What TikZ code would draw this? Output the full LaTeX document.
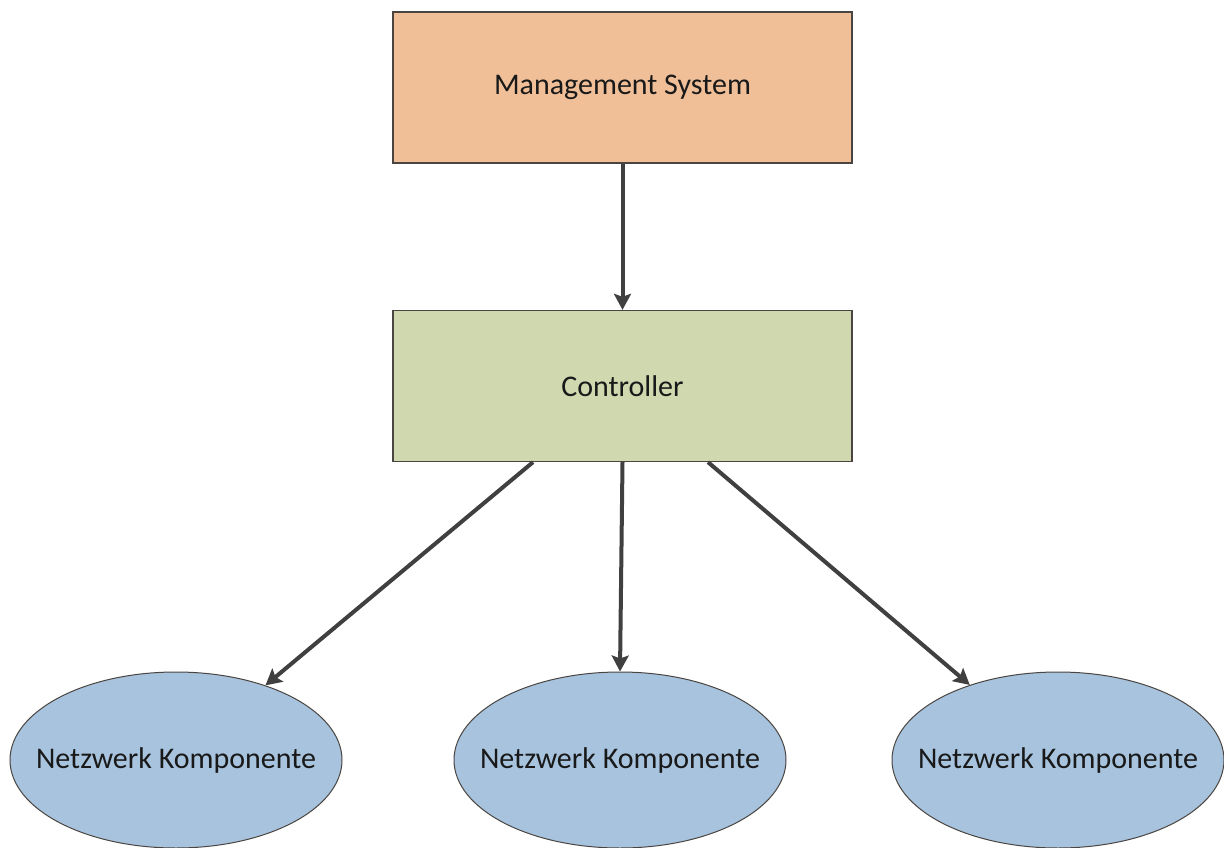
\documentclass[tikz,border=0pt]{standalone}
\usepackage{fontspec}
\setmainfont{Carlito}
\usetikzlibrary{shapes.geometric,arrows.meta,calc}
\definecolor{orangefill}{HTML}{F0BF98}
\definecolor{greenfill}{HTML}{D0D8B0}
\definecolor{bluefill}{HTML}{A7C3DE}
\definecolor{edgecol}{HTML}{4A4540}
\definecolor{arrowcol}{HTML}{404040}
\tikzset{
  box/.style={draw=edgecol, line width=1.3pt, minimum width=459pt, minimum height=151pt, inner sep=0pt, font=\fontsize{30}{34}\selectfont, text=black!90},
  comp/.style={ellipse, draw=edgecol, line width=1pt, fill=bluefill, minimum width=332pt, minimum height=176pt, inner xsep=-40pt, inner ysep=-20pt, font=\fontsize{30}{34}\selectfont, text=black!90},
  conn/.style={draw=arrowcol, line width=4pt, -{Stealth[length=16pt,width=17pt,inset=3pt]}}
}
\begin{document}
\begin{tikzpicture}[x=1pt,y=-1pt]
\useasboundingbox (0,0) rectangle (1224,848);
\fill[white] (0,0) rectangle (1224,848);
\node[box, fill=orangefill] (mgmt) at (622.5,87.5) {Management System};
\node[box, fill=greenfill] (ctrl) at (622.5,386) {Controller};
\node[comp] (e1) at (176,760) {Netzwerk Komponente};
\node[comp] (e2) at (620,760) {Netzwerk Komponente};
\node[comp] (e3) at (1058,760) {Netzwerk Komponente};
\coordinate (s1) at ($(ctrl.south)+(-89.5,0)$);
\coordinate (s3) at ($(ctrl.south)+(85.5,0)$);
\draw[conn] (mgmt.south) -- (ctrl.north);
\draw[conn] (s1) -- (e1);
\draw[conn] (ctrl.south) -- (e2.north);
\draw[conn] (s3) -- (e3);
\end{tikzpicture}
\end{document}
